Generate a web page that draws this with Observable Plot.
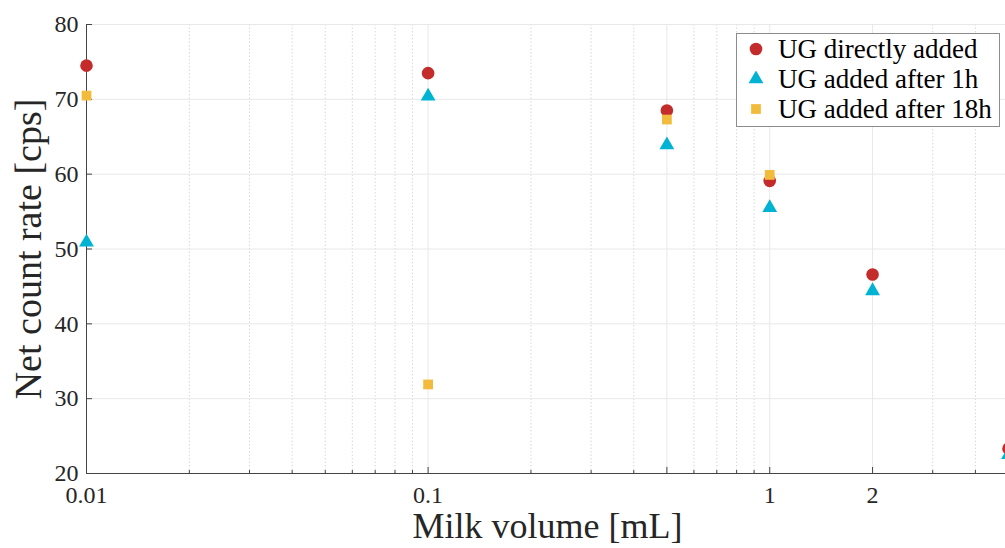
<!DOCTYPE html>
<html><head><meta charset="utf-8">
<script src="https://cdn.jsdelivr.net/npm/d3@7"></script>
<script src="https://cdn.jsdelivr.net/npm/@observablehq/plot@0.6"></script>
<style>
html,body{margin:0;padding:0;background:#fff;overflow:hidden;width:1005px;height:548px;}
#wrap{position:relative;width:1005px;height:548px;overflow:hidden;}
#wrap svg{display:block;max-width:none !important;}
#legend{position:absolute;left:736px;top:33px;width:264px;height:94px;border:1px solid #8c8c8c;background:#fff;box-sizing:border-box;font-family:"Liberation Serif","DejaVu Serif",serif;font-size:27px;color:#000;}
#legend .row{position:absolute;left:0;height:30px;display:flex;align-items:center;white-space:nowrap;}
#legend .row svg{margin-left:11px;margin-right:14px;}
</style></head>
<body><div id="wrap"></div>
<script>
const volumes = [0.01, 0.1, 0.5, 1, 2, 5];
const directlyAdded = [74.5, 73.5, 68.5, 59.1, 46.6, 23.3];
const after1h = [50.9, 70.4, 63.9, 55.5, 44.4, 22.5];
const after18h = [70.5, 31.9, 67.3, 59.9, null, null];
const seriesNames = ["UG directly added", "UG added after 1h", "UG added after 18h"];
const seriesValues = [directlyAdded, after1h, after18h];
const seriesColors = ["#c42b2b", "#00b3d2", "#f3bb3b"];
const seriesSymbols = ["circle", "triangle", "square"];
const seriesRadii = [6.3, 5.5, 5.5];
const xMajorTicks = [0.01, 0.1, 0.5, 1, 2];
const xMajorLabels = ["0.01", "0.1", "0.5", "1", "2"];
const xMinorTicks = [0.02, 0.03, 0.04, 0.05, 0.06, 0.07, 0.08, 0.09, 0.2, 0.3, 0.4, 0.6, 0.7, 0.8, 0.9, 3, 4, 5];
const yTicks = [20, 30, 40, 50, 60, 70, 80];
const xLabel = "Milk volume [mL]";
const yLabel = "Net count rate [cps]";

const font = '"Liberation Serif", "DejaVu Serif", serif';
const axisColor = "#444";

const dotMarks = seriesNames.map((name, s) => {
  const rows = volumes.map((v, i) => ({volume: v, value: seriesValues[s][i], series: name}))
    .filter(d => d.value != null);
  return Plot.dot(rows, {x: "volume", y: "value", symbol: () => seriesSymbols[s], fill: seriesColors[s], r: seriesRadii[s], stroke: "none"});
});

const chart = Plot.plot({
  width: 1010,
  height: 548,
  marginLeft: 86,
  marginRight: 2,
  marginTop: 24,
  marginBottom: 75,
  x: {type: "log", domain: [0.01, 5]},
  y: {domain: [20, 80]},
  symbol: {type: "identity"},
  style: {fontFamily: font, background: "white", color: "#262626", overflow: "visible", maxWidth: "none"},
  marks: [
    Plot.ruleX(xMinorTicks, {stroke: "#d8d8d8", strokeDasharray: "1.5,2"}),
    Plot.ruleX(xMajorTicks, {stroke: "#e8e8e8"}),
    Plot.ruleY(yTicks, {stroke: "#e8e8e8"}),
    Plot.axisX({ticks: xMinorTicks, tickSize: -3, tickFormat: () => "", stroke: axisColor, label: null}),
    Plot.axisX({ticks: xMajorTicks, tickSize: -6, tickPadding: 18, fontSize: 24, stroke: axisColor,
      tickFormat: d => xMajorLabels[xMajorTicks.indexOf(d)], label: null}),
    Plot.axisY({ticks: yTicks, tickSize: -6, tickPadding: 14, fontSize: 24, stroke: axisColor, label: null}),
    Plot.ruleX([0.01], {stroke: axisColor}),
    Plot.ruleY([20], {stroke: axisColor}),
    Plot.text([xLabel], {frameAnchor: "bottom", textAnchor: "middle", dy: 64, lineAnchor: "bottom", fontSize: 36, fill: "#262626"}),
    Plot.text([yLabel], {frameAnchor: "left", textAnchor: "middle", rotate: -90, dx: -58, fontSize: 38, fill: "#262626"}),
    ...dotMarks
  ]
});
const wrap = document.getElementById("wrap");
wrap.appendChild(chart);

// legend
const legend = document.createElement("div");
legend.id = "legend";
seriesNames.forEach((name, s) => {
  const row = document.createElement("div");
  row.className = "row";
  row.style.top = (0 + s * 30) + "px";
  const r = seriesRadii[s];
  const sym = {circle: d3.symbolCircle, triangle: d3.symbolTriangle, square: d3.symbolSquare}[seriesSymbols[s]];
  const path = d3.symbol(sym, Math.PI * r * r)();
  row.innerHTML = `<svg width="16" height="16" viewBox="-8 -8 16 16"><path d="${path}" fill="${seriesColors[s]}"/></svg><span>${name}</span>`;
  legend.appendChild(row);
});
wrap.appendChild(legend);
</script>
</body></html>
